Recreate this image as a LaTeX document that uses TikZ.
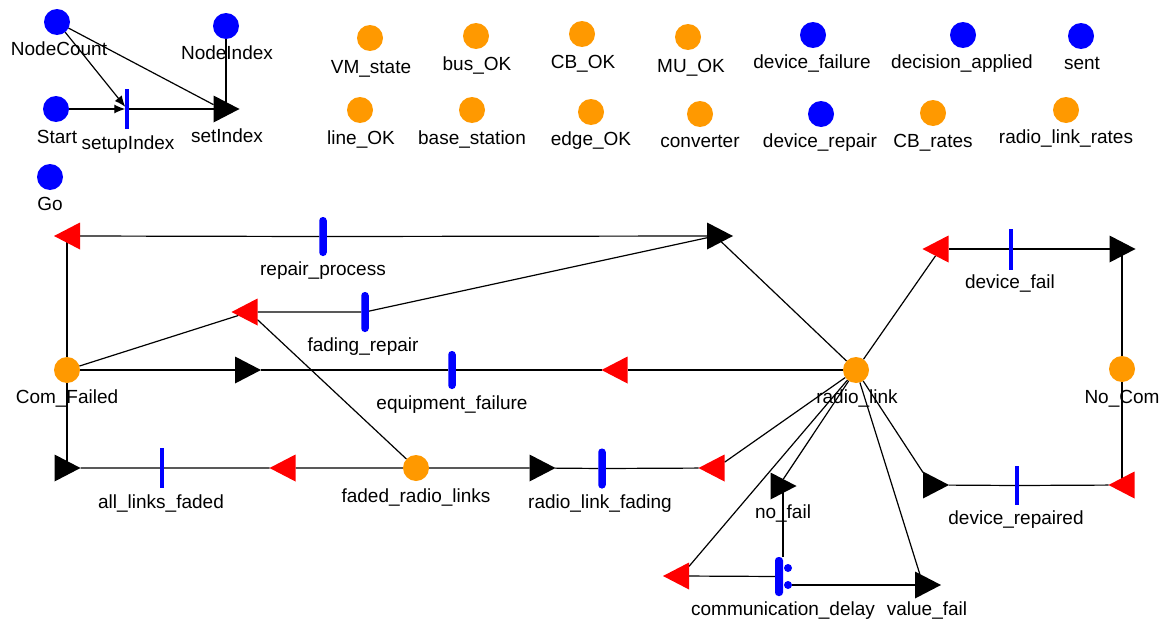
\documentclass[tikz,border=0pt]{standalone}
\usepackage{fontspec}
\setmainfont{Liberation Sans}
\usetikzlibrary{shapes.geometric,arrows.meta,backgrounds}
\definecolor{placeorange}{RGB}{255,153,0}
\definecolor{tokenblue}{RGB}{0,0,255}
\definecolor{gatered}{RGB}{255,0,0}
\begin{document}
\begin{tikzpicture}[x=1pt,y=-1pt,
  place/.style={circle,fill=placeorange,minimum size=26pt,inner sep=0pt,outer sep=0pt},
  bplace/.style={place,fill=tokenblue},
  ogate/.style={isosceles triangle,isosceles triangle stretches=true,shape border rotate=0,
    minimum width=27pt,minimum height=26pt,inner sep=0pt,outer sep=0pt,fill=black,anchor=apex},
  igate/.style={ogate,shape border rotate=180,fill=gatered},
  inst/.style={rectangle,fill=tokenblue,minimum width=3.5pt,minimum height=40pt,inner sep=0pt,outer sep=0pt},
  timed/.style={rectangle,rounded corners=3.5pt,fill=tokenblue,minimum width=7.5pt,minimum height=39pt,inner sep=0pt,outer sep=0pt},
  casedot/.style={circle,fill=tokenblue,minimum size=8pt,inner sep=0pt,outer sep=0pt},
  lbl/.style={anchor=base,inner sep=0pt,font=\fontsize{19}{22}\selectfont},
  link/.style={line width=1.2pt,black},
  arc/.style={link,-{Latex[length=11pt,width=9pt]}}
]
\useasboundingbox (0,0) rectangle (1163,621);

% ---------- index set-up sub-net ----------
\node[bplace] (NodeCount) at (57,22) {};
\node[bplace] (NodeIndex) at (226,26) {};
\node[bplace] (Start) at (56,109) {};
\node[bplace] (Go) at (50,177) {};
\node[inst] (setupIndex) at (127,109) {};
\node[ogate] (setIndex) at (239.5,109) {};
\node[lbl] (NodeCount-l) at (59,55) {NodeCount};
\node[lbl] (NodeIndex-l) at (227,59) {NodeIndex};
\node[lbl] (Start-l) at (57,143) {Start};
\node[lbl] (Go-l) at (50,210) {Go};
\node[lbl] (setupIndex-l) at (128,149) {setupIndex};
\node[lbl] (setIndex-l) at (227,142) {setIndex};

% ---------- global places ----------
\node[place] (VMstate) at (370,38) {};
\node[place] (busOK) at (476,36) {};
\node[place] (CBOK) at (582,34) {};
\node[place] (MUOK) at (688,37) {};
\node[bplace] (devfailure) at (813,35) {};
\node[bplace] (decapplied) at (963,35) {};
\node[bplace] (sent) at (1081,36) {};
\node[place] (lineOK) at (360,110) {};
\node[place] (basestation) at (472,110) {};
\node[place] (edgeOK) at (591,112) {};
\node[place] (converter) at (700,114) {};
\node[bplace] (devrepair) at (821,114) {};
\node[place] (CBrates) at (933,113) {};
\node[place] (rlrates) at (1066,110) {};
\node[lbl] at (371,73) {VM\_state};
\node[lbl] at (477,70) {bus\_OK};
\node[lbl] at (583,68) {CB\_OK};
\node[lbl] at (691,72) {MU\_OK};
\node[lbl] at (812,68) {device\_failure};
\node[lbl] at (962,68) {decision\_applied};
\node[lbl] at (1082,69) {sent};
\node[lbl] at (361,144) {line\_OK};
\node[lbl] at (472,144) {base\_station};
\node[lbl] at (591,145) {edge\_OK};
\node[lbl] at (700,147) {converter};
\node[lbl] at (820,147) {device\_repair};
\node[lbl] at (933,147) {CB\_rates};
\node[lbl] at (1066,143) {radio\_link\_rates};

% ---------- radio link sub-net: places ----------
\node[place] (ComFailed) at (67,370) {};
\node[place] (radiolink) at (856,370) {};
\node[place] (NoCom) at (1122,369) {};
\node[place] (faded) at (416,468) {};
\node[lbl] at (67,403) {Com\_Failed};
\node[lbl] at (857,403) {radio\_link};
\node[lbl] at (1122,403) {No\_Com};
\node[lbl] at (416,502) {faded\_radio\_links};

% ---------- activities ----------
\node[timed] (repair) at (323,236.5) {};
\node[timed,minimum height=40pt] (fadingrepair) at (365,312) {};
\node[timed,minimum height=38pt] (equipfail) at (452,370) {};
\node[inst,minimum height=41pt] (devicefail) at (1011,249) {};
\node[inst,minimum height=39pt] (devrepaired) at (1017,485.5) {};
\node[inst] (alllinks) at (162,468) {};
\node[timed,minimum height=40pt] (rlfading) at (602,468.5) {};
\node[timed,minimum width=8pt] (commdelay) at (779,576.5) {};
\node[casedot] (case1) at (788,568) {};
\node[casedot] (case2) at (788,585) {};
\node[lbl] at (323,275) {repair\_process};
\node[lbl] at (363,351) {fading\_repair};
\node[lbl] at (452,409) {equipment\_failure};
\node[lbl] at (1010,288) {device\_fail};
\node[lbl] at (1016,524) {device\_repaired};
\node[lbl] at (161,508) {all\_links\_faded};
\node[lbl] at (600,508) {radio\_link\_fading};
\node[lbl] at (783,615) {communication\_delay};

% ---------- gates ----------
\node[igate] (rpIn) at (54,236) {};
\node[ogate] (rpOut) at (733,236) {};
\node[igate] (frIn) at (231.5,312) {};
\node[ogate] (efOut) at (261,370) {};
\node[igate] (efIn) at (601.5,370) {};
\node[igate] (dfIn) at (922.5,249) {};
\node[ogate] (dfOut) at (1135.5,249) {};
\node[igate] (drIn) at (1108.5,485) {};
\node[ogate] (drOut) at (949,485) {};
\node[ogate] (alfOut) at (80.5,468) {};
\node[igate] (alfIn) at (269.5,468) {};
\node[ogate] (rlfOut) at (555.5,468) {};
\node[igate] (rlfIn) at (698.5,468) {};
\node[ogate] (noFail) at (796.5,486) {};
\node[igate] (cdIn) at (663,576) {};
\node[ogate] (valueFail) at (941,585) {};
\node[lbl] at (783,518) {no\_fail};
\node[lbl] at (927,615) {value\_fail};

% ---------- connectors ----------
\begin{pgfonlayer}{background}
  % index set-up
  \draw[arc] (Start) -- (setupIndex);
  \draw[arc] (NodeCount) -- (setupIndex);
  \draw[link] (NodeCount) -- (setIndex);
  \draw[link] (NodeIndex) -- (NodeIndex |- setIndex);
  \draw[link] (setupIndex) -- (setIndex);
  % repair_process
  \draw[link] (ComFailed) -- (ComFailed |- rpIn);
  \draw[link] (rpIn) -- (repair) -- (rpOut);
  \draw[link] (radiolink) -- (rpOut);
  % fading_repair
  \draw[link] (ComFailed) -- (frIn);
  \draw[link] (frIn) -- (fadingrepair) -- (rpOut);
  \draw[link] (frIn) -- (faded);
  % equipment_failure
  \draw[link] (ComFailed) -- (efOut) -- (equipfail) -- (efIn) -- (radiolink);
  % device_fail / device_repaired
  \draw[link] (radiolink) -- (dfIn);
  \draw[link] (dfIn) -- (devicefail) -- (dfOut);
  \draw[link] (NoCom |- dfOut) -- (NoCom);
  \draw[link] (NoCom) -- (NoCom |- drIn);
  \draw[link] (drIn) -- (devrepaired) -- (drOut);
  \draw[link] (radiolink) -- (drOut);
  % fading chain
  \draw[link] (ComFailed) -- (ComFailed |- alfOut);
  \draw[link] (alfOut) -- (alllinks) -- (alfIn) -- (faded) -- (rlfOut) -- (rlfading) -- (rlfIn);
  \draw[link] (rlfIn) -- (radiolink);
  % communication_delay
  \draw[link] (radiolink) -- (noFail);
  \draw[link] (commdelay.north east) -- (commdelay.north east |- noFail);
  \draw[link] (radiolink) -- (cdIn);
  \draw[link] (commdelay) -- (cdIn);
  \draw[link] (case2) -- (valueFail);
  \draw[link] (radiolink) -- (valueFail);
\end{pgfonlayer}
\end{tikzpicture}
\end{document}
